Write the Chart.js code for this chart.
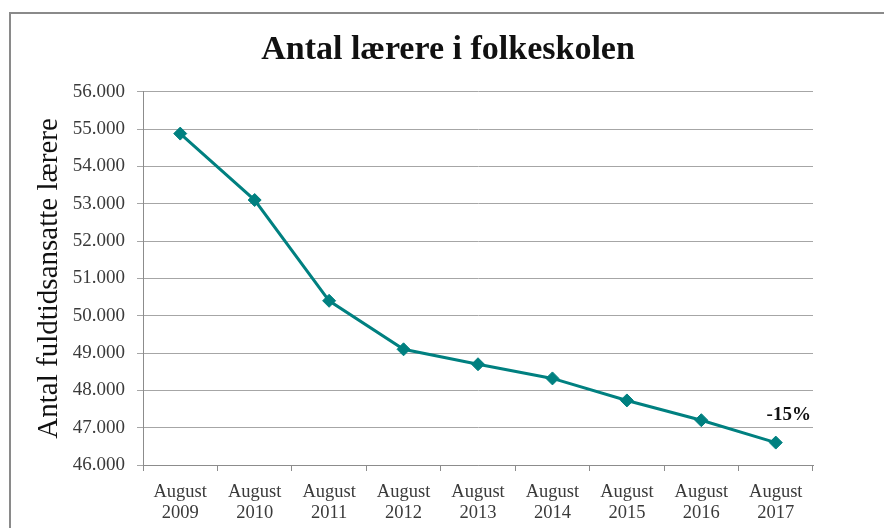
<!DOCTYPE html>
<html lang="da">
<head>
<meta charset="utf-8">
<title>Antal lærere i folkeskolen</title>
<script src="https://cdn.jsdelivr.net/npm/chart.js@4/dist/chart.umd.min.js"></script>
<style>
  html, body { margin: 0; padding: 0; background: #fff; overflow: hidden; }
  #wrap { position: relative; width: 884px; height: 528px; }
  #frame { position: absolute; left: 9px; top: 12px; width: 900px; height: 560px;
           border: 2px solid #8a8a8a; box-sizing: border-box; }
  #box { position: absolute; left: 0; top: 0; width: 884px; height: 528px; }
</style>
</head>
<body>
<div id="wrap">
  <div id="frame"></div>
  <div id="box"><canvas id="c"></canvas></div>
</div>
<script>
// Antal fuldtidsansatte lærere i folkeskolen, august 2009-2017
const months = ['August', 'August', 'August', 'August', 'August', 'August', 'August', 'August', 'August'];
const years = ['2009', '2010', '2011', '2012', '2013', '2014', '2015', '2016', '2017'];
const teachers = [54880, 53100, 50400, 49100, 48700, 48320, 47730, 47200, 46600];
const endNote = '-15%';

const TEAL = '#008080';
const SERIF = '"Liberation Serif","Times New Roman",serif';
Chart.defaults.font.family = SERIF;
Chart.defaults.color = '#3a3a3a';

const dots = n => String(n).replace(/\B(?=(\d{3})+(?!\d))/g, '.');

// skriver "-15%" ved sidste punkt
const endLabel = {
  id: 'endLabel',
  afterDatasetsDraw(chart) {
    const pts = chart.getDatasetMeta(0).data;
    const p = pts[pts.length - 1];
    const ctx = chart.ctx;
    ctx.save();
    ctx.font = 'bold 19px ' + SERIF;
    ctx.fillStyle = '#111';
    ctx.textAlign = 'center';
    ctx.textBaseline = 'middle';
    ctx.fillText(endNote, p.x + 13, p.y - 28);
    ctx.restore();
  },
};

new Chart(document.getElementById('c'), {
  type: 'line',
  data: {
    labels: years.map((y, i) => [months[i], y]),
    datasets: [{
      data: teachers,
      borderColor: TEAL, backgroundColor: TEAL,
      borderWidth: 3, tension: 0,
      pointStyle: 'rectRot', pointRadius: 6.5, pointBorderWidth: 1,
      pointBackgroundColor: TEAL, pointBorderColor: TEAL,
    }],
  },
  options: {
    responsive: true, maintainAspectRatio: false, animation: false,
    layout: { padding: { left: 12, right: 0, top: 0, bottom: 0 } },
    plugins: {
      legend: { display: false },
      tooltip: { enabled: false },
      title: {
        display: true, text: 'Antal lærere i folkeskolen', color: '#111',
        font: { size: 34, weight: 'bold', family: SERIF },
        padding: { top: 30, bottom: 21 },
      },
    },
    scales: {
      x: {
        offset: true,
        grid: { offset: true, drawOnChartArea: false, drawTicks: true, tickLength: 6, color: '#8c8c8c' },
        border: { color: '#8c8c8c' },
        ticks: { font: { size: 18.5, lineHeight: 1.17 }, padding: 10, maxRotation: 0, autoSkip: false },
        afterFit(s) { s.height = 63; },
      },
      y: {
        min: 46000, max: 56000,
        grid: { color: '#a6a6a6', tickLength: 6 },
        border: { color: '#8c8c8c' },
        ticks: { stepSize: 1000, padding: 12, font: { size: 19 }, callback: v => dots(v) },
        title: {
          display: true, text: 'Antal fuldtidsansatte lærere', color: '#111',
          font: { size: 29, family: SERIF }, padding: { top: 20, bottom: 0 },
        },
        afterFit(s) { s.width = 131; },
      },
      // tom højre margin, så titlen centreres over hele rammen
      pad: {
        type: 'linear', position: 'right', display: true,
        grid: { display: false }, border: { display: false }, ticks: { display: false },
        afterFit(s) { s.width = 71; },
      },
    },
  },
  plugins: [endLabel],
});
</script>
</body>
</html>
